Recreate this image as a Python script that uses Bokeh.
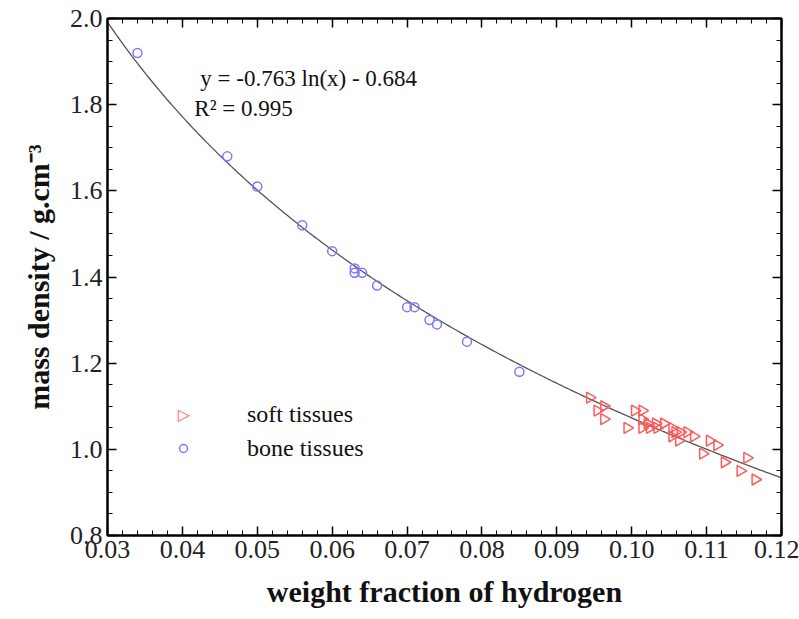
import numpy as np
from bokeh.plotting import figure
from bokeh.models import (FixedTicker, LinearAxis, PrintfTickFormatter, Label,
                          Legend, LegendItem, Range1d, ColumnDataSource)
from bokeh.embed import file_html
from bokeh.resources import INLINE

# ---- data ----
bone_h = [0.034, 0.046, 0.050, 0.056, 0.060, 0.063, 0.063, 0.064, 0.066,
          0.070, 0.071, 0.073, 0.074, 0.078, 0.085]
bone_rho = [1.92, 1.68, 1.61, 1.52, 1.46, 1.42, 1.41, 1.41, 1.38,
            1.33, 1.33, 1.30, 1.29, 1.25, 1.18]

soft_h = [0.0944, 0.0954, 0.0963, 0.0963, 0.0994, 0.1004, 0.1014, 0.1014,
          0.1014, 0.1021, 0.1024, 0.1032, 0.1034, 0.1043, 0.1054, 0.1054,
          0.1058, 0.1063, 0.1065, 0.1074, 0.1083, 0.1095, 0.1104, 0.1114,
          0.1124, 0.1145, 0.1154, 0.1165]
soft_rho = [1.12, 1.09, 1.10, 1.07, 1.05, 1.09, 1.09, 1.07,
            1.05, 1.06, 1.05, 1.06, 1.05, 1.06, 1.05, 1.03,
            1.04, 1.02, 1.04, 1.04, 1.03, 0.99, 1.02, 1.01,
            0.97, 0.95, 0.98, 0.93]

fit_a = -0.763
fit_b = -0.684
fit_label = "y = -0.763 ln(x) - 0.684"
r2_label = "R\u00b2 = 0.995"

x_ticks = [0.03, 0.04, 0.05, 0.06, 0.07, 0.08, 0.09, 0.10, 0.11, 0.12]
y_ticks = [0.8, 1.0, 1.2, 1.4, 1.6, 1.8, 2.0]

SERIF = "Liberation Serif"
TICK_FS = "26px"
SOFT_COLOR = "#ff5a5a"
BONE_COLOR = "#7a7aff"

p = figure(width=799, height=619, output_backend="svg", toolbar_location=None,
           x_range=Range1d(0.03, 0.12), y_range=Range1d(0.8, 2.0),
           min_border_left=107, min_border_right=18, min_border_top=18,
           min_border_bottom=84)
p.grid.visible = False
p.outline_line_color = "black"
p.outline_line_width = 2
p.background_fill_color = "white"
p.border_fill_color = "white"

x_minor = [round(0.03 + i * 0.002, 4) for i in range(46)]
y_minor = [round(0.8 + i * 0.05, 3) for i in range(25)]
xt = FixedTicker(ticks=x_ticks, minor_ticks=x_minor)
yt = FixedTicker(ticks=y_ticks, minor_ticks=y_minor)


def style(ax, show_labels):
    ax.axis_line_color = "black"
    ax.axis_line_width = 2
    ax.major_tick_in = 9
    ax.major_tick_out = 0
    ax.minor_tick_in = 5
    ax.minor_tick_out = 0
    ax.major_tick_line_color = "black"
    ax.minor_tick_line_color = "black"
    ax.major_tick_line_width = 1.5
    ax.minor_tick_line_width = 1
    if show_labels:
        ax.major_label_text_font = SERIF
        ax.major_label_text_font_size = TICK_FS
        ax.major_label_text_color = "#222222"
        ax.major_label_standoff = 5
    else:
        ax.major_label_text_font_size = "1px"
        ax.major_label_text_alpha = 0
        ax.major_label_standoff = 0


xa = p.xaxis[0]
xa.ticker = xt
xa.formatter = PrintfTickFormatter(format="%.2f")
style(xa, True)
xa.axis_label = "weight fraction of hydrogen"
xa.axis_label_text_font = SERIF
xa.axis_label_text_font_size = "30px"
xa.axis_label_text_font_style = "bold"
xa.axis_label_text_color = "#111111"
xa.axis_label_standoff = 14

ya = p.yaxis[0]
ya.ticker = yt
ya.formatter = PrintfTickFormatter(format="%.1f")
style(ya, True)
ya.axis_label = "mass density / g.cm\u207b\u00b3"
ya.axis_label_text_font = SERIF
ya.axis_label_text_font_size = "30px"
ya.axis_label_text_font_style = "bold"
ya.axis_label_text_color = "#111111"
ya.axis_label_standoff = 12

top = LinearAxis(ticker=xt)
style(top, False)
p.add_layout(top, "above")
right = LinearAxis(ticker=yt)
style(right, False)
p.add_layout(right, "right")

# fit curve
xf = np.linspace(0.03, 0.12, 300)
yf = fit_a * np.log(xf) + fit_b
p.line(xf, yf, line_color="#555555", line_width=1.3)

soft_src = ColumnDataSource(dict(x=soft_h, y=soft_rho))
bone_src = ColumnDataSource(dict(x=bone_h, y=bone_rho))
r_soft = p.scatter("x", "y", source=soft_src, marker="triangle", angle=-np.pi / 2,
                   size=11, fill_color=None, line_color=SOFT_COLOR, line_width=1.5)
r_bone = p.scatter("x", "y", source=bone_src, marker="circle", size=9,
                   fill_color=None, line_color=BONE_COLOR, line_width=1.5)

# legend: Bokeh draws legend markers unrotated, so the soft-tissue key is an
# invisible placeholder and the right-pointing triangle is drawn as a label
r_soft_key = p.scatter(x=[], y=[], marker="triangle", size=9,
                       fill_alpha=0, line_alpha=0)
legend = Legend(items=[LegendItem(label="soft tissues", renderers=[r_soft_key]),
                       LegendItem(label="bone tissues", renderers=[r_bone], index=0)],
                location=(56, 62), label_text_font=SERIF,
                label_text_font_size="24px", label_standoff=54,
                glyph_width=20, glyph_height=30, spacing=4,
                background_fill_alpha=0, border_line_alpha=0,
                label_text_color="#111111")
p.add_layout(legend, "center")
p.add_layout(Label(x=0.0402, y=1.081, text="\u25b7", text_font="DejaVu Sans",
                   text_font_size="16px", text_font_style="bold",
                   text_color=SOFT_COLOR,
                   text_align="center", text_baseline="middle"))

p.add_layout(Label(x=0.0424, y=1.861, text=fit_label, text_font=SERIF,
                   text_font_size="23px", text_color="#111111",
                   text_baseline="alphabetic"))
p.add_layout(Label(x=0.0416, y=1.791, text=r2_label, text_font=SERIF,
                   text_font_size="23px", text_color="#111111",
                   text_baseline="alphabetic"))

open("out.html", "w").write(file_html(p, INLINE))
